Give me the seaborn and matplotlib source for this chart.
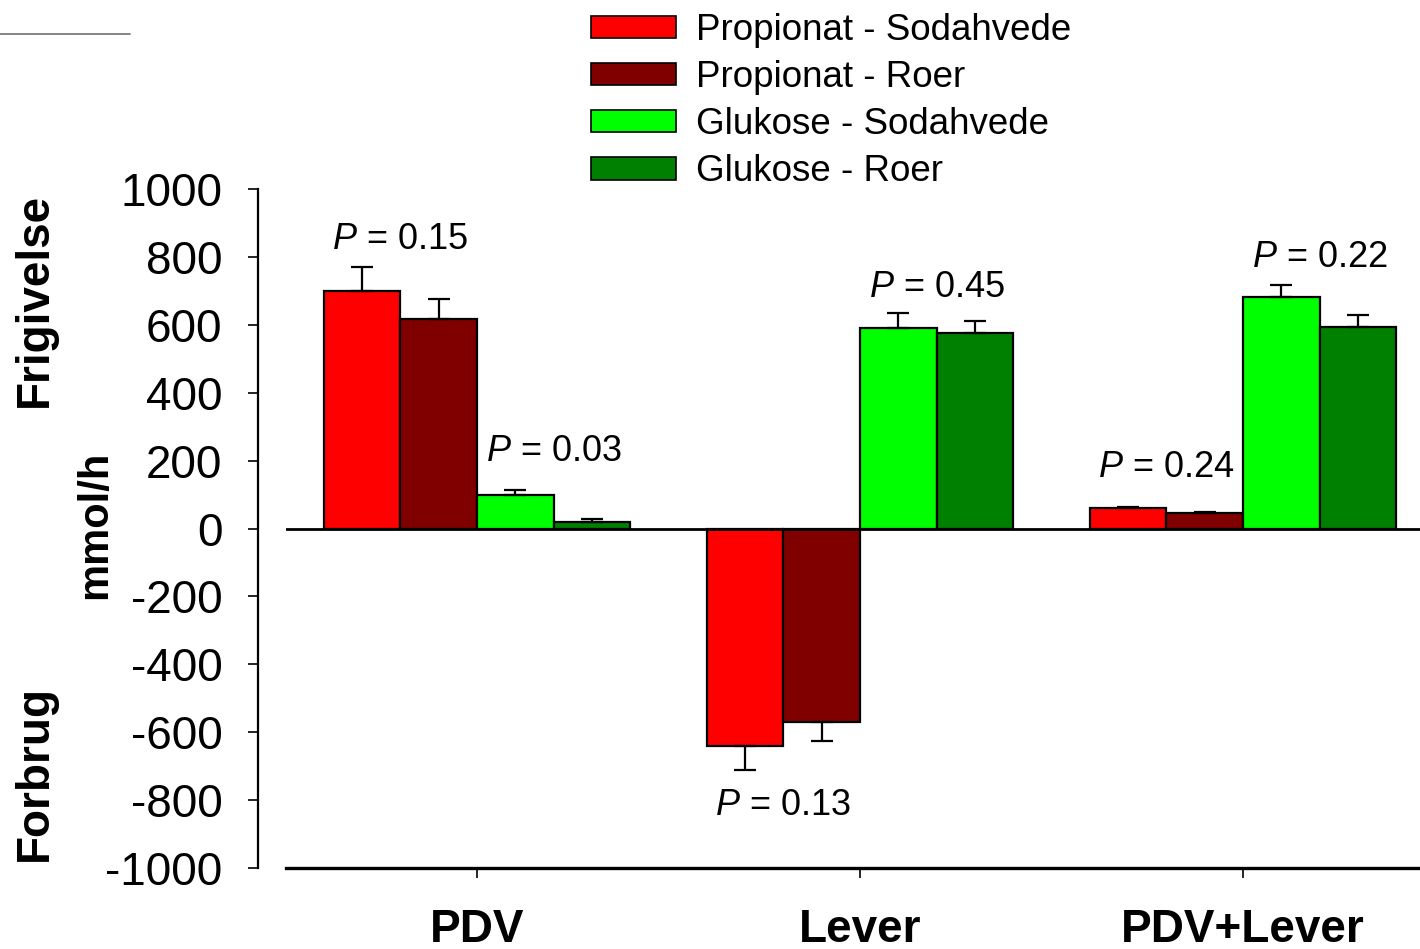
import numpy as np
import pandas as pd
import matplotlib
matplotlib.use("Agg")
import matplotlib.pyplot as plt
from matplotlib.lines import Line2D
import seaborn as sns

# data (mmol/h)
categories = ["PDV", "Lever", "PDV+Lever"]
series = ["Propionat - Sodahvede", "Propionat - Roer",
          "Glukose - Sodahvede", "Glukose - Roer"]
prop_soda = [700, -640, 59]
prop_roer = [617, -570, 47]
gluk_soda = [100, 590, 681]
gluk_roer = [20, 576, 593]
prop_soda_err = [70, 71, 3]
prop_roer_err = [58, 56, 3]
gluk_soda_err = [12, 44, 35]
gluk_roer_err = [9, 35, 35]

p_texts = ["0.15", "0.03", "0.13", "0.45", "0.24", "0.22"]
p_x = [-0.2, 0.2, 0.8, 1.2, 1.8, 2.2]
p_y = [852, 226, -816, 711, 179, 799]

colors = ["#ff0000", "#800000", "#00ff00", "#008000"]

values = [prop_soda, prop_roer, gluk_soda, gluk_roer]
errors = [prop_soda_err, prop_roer_err, gluk_soda_err, gluk_roer_err]

df = pd.DataFrame({
    "kategori": categories * len(series),
    "serie": np.repeat(series, len(categories)),
    "verdi": np.concatenate(values),
})

sns.set_style("white")
plt.rcParams["font.family"] = ["Liberation Sans", "DejaVu Sans"]
plt.rcParams["mathtext.fontset"] = "custom"
plt.rcParams["mathtext.rm"] = "Liberation Sans"
plt.rcParams["mathtext.it"] = "Liberation Sans:italic"
plt.rcParams["axes.unicode_minus"] = False
plt.rcParams["text.color"] = "black"
plt.rcParams["xtick.color"] = "black"
plt.rcParams["ytick.color"] = "black"

W, H = 1420, 949
fig = plt.figure(figsize=(W / 100, H / 100), dpi=100)
ax = fig.add_axes([285.5 / W, 1 - 868 / H, (1434.5 - 285.5) / W, (868 - 189) / H])

sns.barplot(data=df, x="kategori", y="verdi", hue="serie", order=categories,
            hue_order=series, palette=colors, errorbar=None, width=0.8,
            edgecolor="black", linewidth=1.6, saturation=1, ax=ax, legend=False)

# one-sided error bars
for cont, vals, errs in zip(ax.containers, values, errors):
    for bar, v, e in zip(cont, vals, errs):
        xc = bar.get_x() + bar.get_width() / 2
        lower = [0] if v >= 0 else [e]
        upper = [e] if v >= 0 else [0]
        ax.errorbar(xc, v, yerr=[lower, upper], fmt="none", ecolor="black",
                    elinewidth=1.6, capsize=8, capthick=1.6, zorder=1)

ax.axhline(0, color="black", lw=2, zorder=3)

for t, x, y in zip(p_texts, p_x, p_y):
    ax.text(x, y, r"$\it{P}$ = " + t, ha="center", va="center", fontsize=26,
            color="black")

ax.set_xlim(-0.5, 2.5)
ax.set_ylim(-1000, 1000)
ax.set_yticks(np.arange(-1000, 1001, 200))
ax.set_xlabel("")
ax.set_ylabel("")
for s in ["top", "right"]:
    ax.spines[s].set_visible(False)
ax.spines["left"].set_position(("outward", 19.5))
ax.spines["left"].set_linewidth(1.6)
ax.spines["bottom"].set_linewidth(2.4)
ax.spines["left"].set_color("black")
ax.spines["bottom"].set_color("black")
ax.tick_params(axis="y", direction="out", length=7, width=1.2, labelsize=33, pad=19,
               left=True, colors="black")
ax.tick_params(axis="x", direction="out", length=7, width=1.2, labelsize=33, pad=22,
               bottom=True, colors="black")
for lab in ax.get_xticklabels():
    lab.set_fontweight("bold")

handles = [plt.Rectangle((0, 0), 1, 1, facecolor=c, edgecolor="black", linewidth=1.2)
           for c in colors]
fig.legend(handles, series, loc="upper left", bbox_to_anchor=(591 / W, 1 - 13 / H),
           frameon=False, fontsize=26.5, handlelength=2.3, handleheight=0.55,
           handletextpad=0.55, labelspacing=0.33, borderpad=0, borderaxespad=0,
           labelcolor="black")

fig.text(35 / W, 1 - 300 / H, "Frigivelse", rotation=90, ha="center", va="center",
         fontsize=33, fontweight="bold", color="black")
fig.text(95 / W, 1 - 525 / H, "mmol/h", rotation=90, ha="center", va="center",
         fontsize=30, fontweight="bold", color="black")
fig.text(35 / W, 1 - 773 / H, "Forbrug", rotation=90, ha="center", va="center",
         fontsize=33, fontweight="bold", color="black")

fig.add_artist(Line2D([0, 130 / W], [1 - 34 / H, 1 - 34 / H], color="#707070", lw=1.2))

fig.savefig("out.png", dpi=100)
